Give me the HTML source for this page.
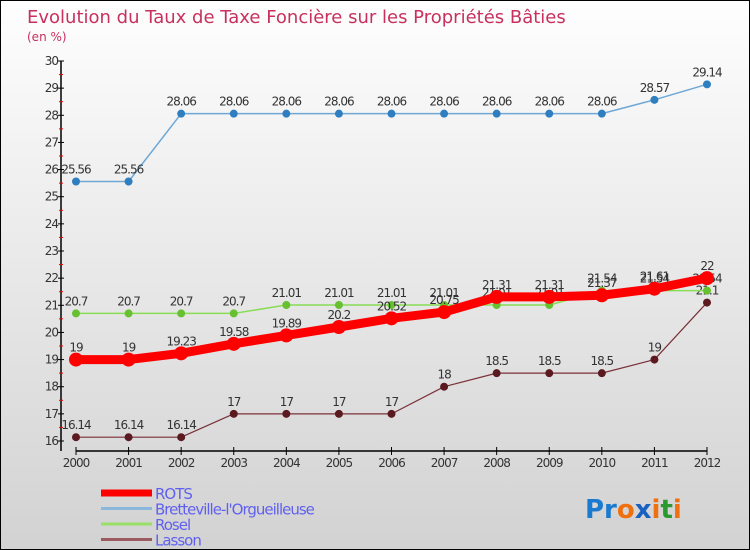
<!DOCTYPE html>
<html><head><meta charset="utf-8"><style>
body{margin:0;}
#c{width:750px;height:550px;position:relative;box-sizing:border-box;border:1px solid #000;background:linear-gradient(#fefefe,#d2d2d2);font-family:"DejaVu Sans","Liberation Sans",sans-serif;overflow:hidden}
</style></head><body>
<div id="c">
<svg id="s" width="750" height="550" style="position:absolute;left:0;top:0"></svg>
</div>
<script>
const years=["2000","2001","2002","2003","2004","2005","2006","2007","2008","2009","2010","2011","2012"];
const yTicks=[16,17,18,19,20,21,22,23,24,25,26,27,28,29,30];
const rots=[19,19,19.23,19.58,19.89,20.2,20.52,20.75,21.31,21.31,21.37,21.61,22];
const bret=[25.56,25.56,28.06,28.06,28.06,28.06,28.06,28.06,28.06,28.06,28.06,28.57,29.14];
const rosel=[20.7,20.7,20.7,20.7,21.01,21.01,21.01,21.01,21.01,21.01,21.54,21.54,21.54];
const lasson=[16.14,16.14,16.14,17,17,17,17,18,18.5,18.5,18.5,19,21.1];
const NS="http://www.w3.org/2000/svg";
const s=document.getElementById('s');
function X(i){return 75+i*(706-75)/12;}
function Y(v){return 440-(v-16)*(380/14);}
function el(t,a,txt,p){const e=document.createElementNS(NS,t);for(const k in a)e.setAttribute(k,a[k]);if(txt!==undefined)e.textContent=txt;(p||s).appendChild(e);return e;}
let e;
e=el('text',{x:26,y:22,fill:'#c8305e','font-size':18},'Evolution du Taux de Taxe Foncière sur les Propriétés Bâties');


e=el('text',{x:26,y:40,fill:'#c8305e','font-size':12},'(en %)');


e=el('line',{x1:60,y1:60,x2:60,y2:450,stroke:'#000','stroke-width':1.5});


e=el('line',{x1:75,y1:450,x2:706,y2:450,stroke:'#000','stroke-width':1.5});


yTicks.forEach(v=>{
 e=el('line',{x1:57,y1:Y(v),x2:63,y2:Y(v),stroke:'#000'});
 
 
 if(v<30){e=el('line',{x1:58,y1:Y(v+0.5),x2:62,y2:Y(v+0.5),stroke:'#e00'});
 
 }
 e=el('text',{x:57,y:Y(v)+4,'text-anchor':'end','font-size':12,fill:'#333','letter-spacing':-1},String(v));
 
 
});
years.forEach((y,i)=>{
 e=el('line',{x1:X(i),y1:446,x2:X(i),y2:454,stroke:'#000'});
 
 
 e=el('text',{x:X(i),y:466,'text-anchor':'middle','font-size':12,fill:'#333','letter-spacing':-1},y);
 
 
});
function series(name,data,color,w,r,dot){
 const pts=data.map((v,i)=>X(i)+','+Y(v)).join(' ');
 e=el('polyline',{points:pts,fill:'none',stroke:color,'stroke-width':w,'stroke-linejoin':'round'});
 
 
 data.forEach((v,i)=>{
  e=el('circle',{cx:X(i),cy:Y(v),r:r,fill:dot});
  
  
  e=el('text',{x:X(i),y:Y(v)-8,'text-anchor':'middle','font-size':12,fill:'#333','letter-spacing':-1},String(v));
  
  
 });
}
series('bretteville',bret,'#6fa8d6',1.5,4,'#2f7fc0');
series('lasson',lasson,'#7a3038',1.2,4,'#5a1a20');
series('rosel',rosel,'#88dd55',1.5,4,'#66c030');
series('rots',rots,'#f00',9,7,'#f00');
const leg=[['ROTS','#f00',7],['Bretteville-l\'Orgueilleuse','#8ab8dc',3],['Rosel','#99e066',3],['Lasson','#9a5a60',3]];
leg.forEach((l,i)=>{
 const y=492+i*15.5;
 e=el('line',{x1:100,y1:y,x2:151,y2:y,stroke:l[1],'stroke-width':l[2]});
 
 
 e=el('text',{x:154,y:y+6,'font-size':15,fill:'#6060f0','letter-spacing':-1},l[0]);
 
 
});
const logo=el('text',{x:584,y:517,'font-size':26,'font-weight':'bold'});


el('tspan',{fill:'#1a7ad0'},'Pr',logo);
el('tspan',{fill:'#f07010'},'o',logo);
el('tspan',{fill:'#1a60c0'},'x',logo);
el('tspan',{fill:'#f07010'},'i',logo);
el('tspan',{fill:'#2a9a30'},'t',logo);
el('tspan',{fill:'#f07010'},'i',logo);
</script>
</body></html>
